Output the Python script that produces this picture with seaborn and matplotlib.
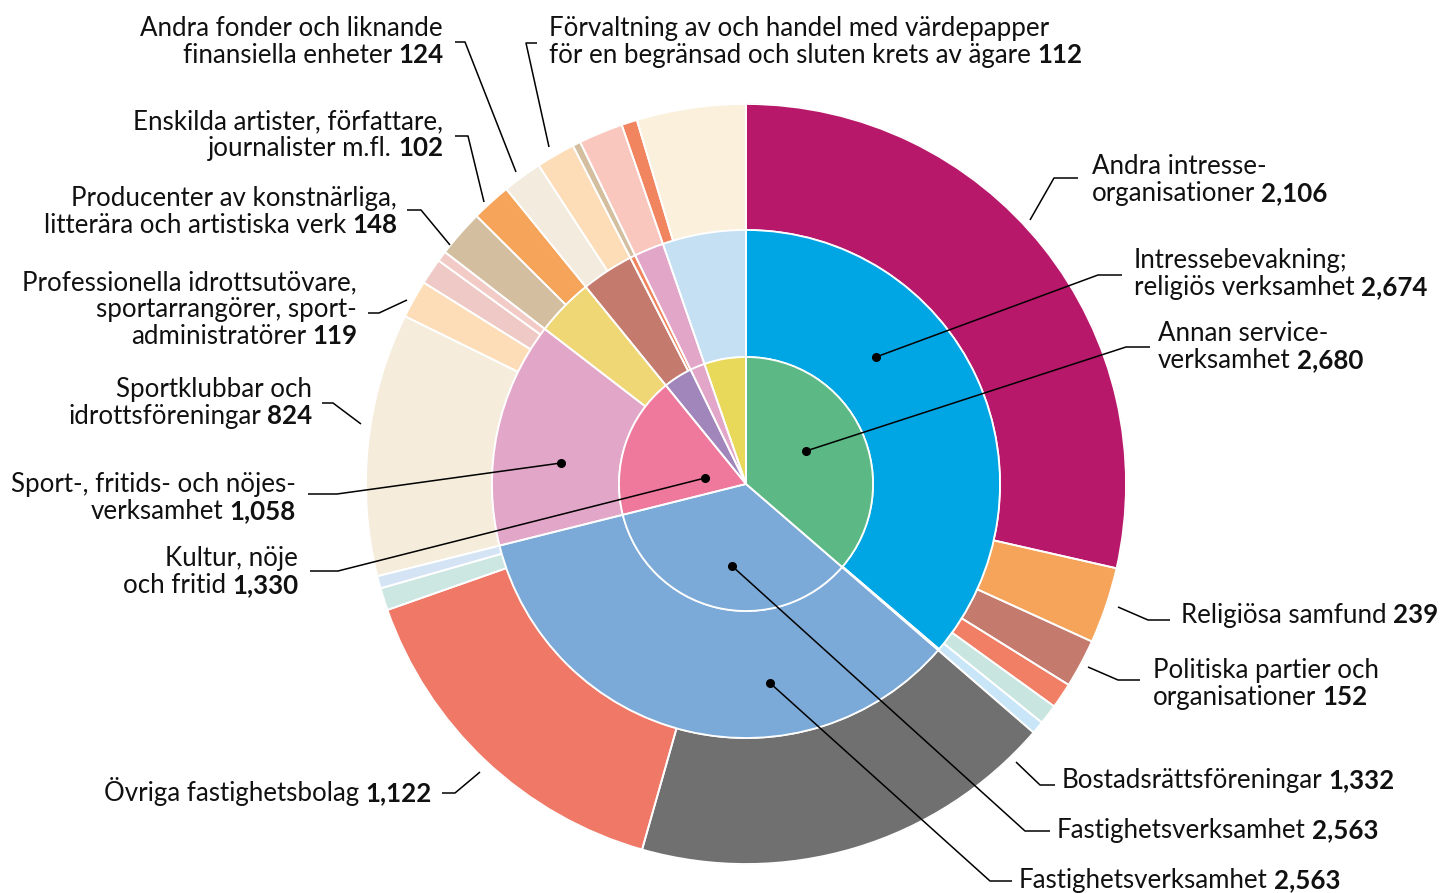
import matplotlib
matplotlib.use("Agg")
import matplotlib.pyplot as plt
import seaborn as sns

# Data: three rings, clockwise from twelve o'clock
inner_names = ["Annan serviceverksamhet", "Fastighetsverksamhet", "Kultur, nöje och fritid",
               "Finansverksamhet", "Övrig verksamhet A", "Övrig verksamhet B"]
inner_values = [2680, 2563, 1330, 271, 139, 391]
inner_colors = ["#5CB885", "#7BAAD8", "#EF799D", "#A186BC", "#E2A6C8", "#E8D95A"]

middle_names = ["Intressebevakning; religiös verksamhet", "övrigt", "Fastighetsverksamhet",
                "Sport-, fritids- och nöjesverksamhet", "Konstnärlig och kulturell verksamhet",
                "Finansiella tjänster", "Stödtjänster till finans", "Övrig verksamhet A",
                "Övrig verksamhet B"]
middle_values = [2674, 6, 2563, 1058, 272, 246, 25, 139, 391]
middle_colors = ["#00A6E4", "#C9E6F8", "#7BAAD8", "#E2A6C8", "#F0D775", "#C47B6D",
                 "#F0855F", "#E2A6C8", "#C6E0F3"]

outer_names = ["Andra intresseorganisationer", "Religiösa samfund", "Politiska partier och organisationer",
               "Arbetstagarorganisationer", "Bransch- och arbetsgivarorganisationer", "Yrkesorganisationer",
               "Bostadsrättsföreningar", "Övriga fastighetsbolag", "Fastighetsförmedling", "Fastighetsförvaltning",
               "Sportklubbar och idrottsföreningar", "Professionella idrottsutövare, sportarrangörer, sportadministratörer",
               "Fritidsverksamhet", "Nöjesparker",
               "Producenter av konstnärliga, litterära och artistiska verk", "Enskilda artister, författare, journalister m.fl.",
               "övrigt",
               "Andra fonder och liknande finansiella enheter",
               "Förvaltning av och handel med värdepapper för en begränsad och sluten krets av ägare",
               "övrigt",
               "Stödtjänster", "Övrig verksamhet A", "Övrig verksamhet B1", "Övrig verksamhet B2"]
outer_values = [2106, 239, 152, 80, 63, 40,
                1332, 1122, 70, 39,
                824, 119, 82, 33,
                148, 102, 22,
                124, 112, 10,
                25, 139, 49, 342]
outer_colors = ["#B8186A", "#F5A45A", "#C47B6D", "#F07F65", "#C8E6DF", "#C9E6F8",
                "#707070", "#EF7867", "#CCE7E1", "#D4E4F5",
                "#F5ECDC", "#FDDDB7", "#EFC9C5", "#F2CBC7",
                "#D3BF9F", "#F5A45A", "#F5A45A",
                "#F3EBDE", "#FDDDB7", "#FDDDB7",
                "#D3BF9F", "#F9C7BE", "#F0855F", "#FAF0DC"]

# Labels: (ring, index, text lines, dot inside slice)
labels = [
    ("outer", 17, ["Andra fonder och liknande", "finansiella enheter"], False),
    ("outer", 18, ["Förvaltning av och handel med värdepapper", "för en begränsad och sluten krets av ägare"], False),
    ("outer", 15, ["Enskilda artister, författare,", "journalister m.fl."], False),
    ("outer", 14, ["Producenter av konstnärliga,", "litterära och artistiska verk"], False),
    ("outer", 11, ["Professionella idrottsutövare,", "sportarrangörer, sport-", "administratörer"], False),
    ("outer", 10, ["Sportklubbar och", "idrottsföreningar"], False),
    ("middle", 3, ["Sport-, fritids- och nöjes-", "verksamhet"], True),
    ("inner", 2, ["Kultur, nöje", "och fritid"], True),
    ("outer", 7, ["Övriga fastighetsbolag"], False),
    ("outer", 0, ["Andra intresse-", "organisationer"], False),
    ("middle", 0, ["Intressebevakning;", "religiös verksamhet"], True),
    ("inner", 0, ["Annan service-", "verksamhet"], True),
    ("outer", 1, ["Religiösa samfund"], False),
    ("outer", 2, ["Politiska partier och", "organisationer"], False),
    ("outer", 6, ["Bostadsrättsföreningar"], False),
    ("inner", 1, ["Fastighetsverksamhet"], True),
    ("middle", 2, ["Fastighetsverksamhet"], True),
]

# Layout of the labels in picture pixels: text anchor x, first baseline y, alignment, leader polyline
label_layout = [
    (443, 36, "right", [(455, 42), (465, 42), (516, 172)]),
    (549, 36, "left", [(537, 43), (526, 43), (549, 147)]),
    (443, 129, "right", [(455, 136), (468, 136), (484, 202)]),
    (397, 206, "right", [(407, 210), (421, 210), (450, 245)]),
    (357, 290, "right", [(368, 313), (379, 313), (407, 300)]),
    (312, 397, "right", [(322, 403), (333, 403), (361, 424)]),
    (296, 492, "right", [(308, 494), (337, 494), (561, 463)]),
    (298, 566, "right", [(310, 571), (338, 571), (705, 478)]),
    (432, 801, "right", [(442, 793), (455, 793), (480, 772)]),
    (1092, 174, "left", [(1030, 220), (1054, 178), (1078, 178)]),
    (1134, 268, "left", [(876, 357), (1098, 275), (1122, 275)]),
    (1158, 341, "left", [(806, 451), (1126, 347), (1150, 347)]),
    (1181, 623, "left", [(1118, 607), (1148, 620), (1170, 620)]),
    (1153, 678, "left", [(1088, 667), (1118, 680), (1140, 680)]),
    (1062, 788, "left", [(1016, 762), (1040, 785), (1055, 785)]),
    (1057, 838, "left", [(732, 566), (1025, 831), (1050, 831)]),
    (1019, 888, "left", [(770, 683), (990, 881), (1012, 881)]),
]

W, H = 1443, 893
CX, CY = 746, 484
FS = 18.6
LH = 27

sns.set_theme(style="white")
plt.rcParams["font.family"] = ["Lato", "DejaVu Sans"]

fig = plt.figure(figsize=(W / 100, H / 100), dpi=100)
ax = fig.add_axes([0, 0, 1, 1])
center = (CX, H - CY)

# outer first so the inner rings' white borders sit on top
rings = [
    (outer_values, outer_colors, outer_names, 380, 126),
    (middle_values, middle_colors, middle_names, 254, 127),
    (inner_values, inner_colors, inner_names, 127, None),
]
for vals, cols, names, r, w in rings:
    # fills
    props = dict(linewidth=0.4)
    if w is not None:
        props["width"] = w
    wedges, _ = ax.pie(vals, colors=cols, radius=r, center=center, startangle=90,
                       counterclock=False, wedgeprops=props)
    for wd, c in zip(wedges, cols):
        wd.set_edgecolor(c)
    # white borders; an unnamed remainder is merged into the slice before it
    merged = []
    for v, name, c in zip(vals, names, cols):
        if merged and name == "övrigt" and c == merged[-1][1]:
            merged[-1][0] += v
        else:
            merged.append([v, c])
    props = dict(edgecolor="white", linewidth=1.3, fill=False)
    if w is not None:
        props["width"] = w
    ax.pie([m[0] for m in merged], radius=r, center=center, startangle=90,
           counterclock=False, wedgeprops=props)

ax.set_xlim(0, W)
ax.set_ylim(0, H)
ax.set_aspect("equal")
ax.axis("off")

ring_values = {"inner": inner_values, "middle": middle_values, "outer": outer_values}
renderer = fig.canvas.get_renderer()

for (ring, idx, lines, dot), (x, y0, ha, leader) in zip(labels, label_layout):
    number = f"{ring_values[ring][idx]:,}"
    for i, line in enumerate(lines):
        y = H - (y0 + i * LH)
        if i < len(lines) - 1:
            ax.text(x, y, line, ha=ha, va="baseline", fontsize=FS, color="#111111")
            continue
        if ha == "right":
            tb = ax.text(x, y, number, ha="right", va="baseline", fontsize=FS,
                         fontweight="bold", color="#111111")
            wb = tb.get_window_extent(renderer).width
            ax.text(x - wb - 6, y, line, ha="right", va="baseline", fontsize=FS, color="#111111")
        else:
            tr = ax.text(x, y, line, ha="left", va="baseline", fontsize=FS, color="#111111")
            wr = tr.get_window_extent(renderer).width
            ax.text(x + wr + 6, y, number, ha="left", va="baseline", fontsize=FS,
                    fontweight="bold", color="#111111")
    xs = [p[0] for p in leader]
    ys = [H - p[1] for p in leader]
    ax.plot(xs, ys, color="black", lw=1.1, solid_capstyle="butt")
    if dot:
        # the dot sits at the end of the leader that lies inside the chart
        k = min(range(len(leader)), key=lambda j: (leader[j][0] - CX) ** 2 + (leader[j][1] - CY) ** 2)
        ax.plot(xs[k], ys[k], "o", color="black", ms=5.5)

fig.savefig("out.png", dpi=100, facecolor="white")
